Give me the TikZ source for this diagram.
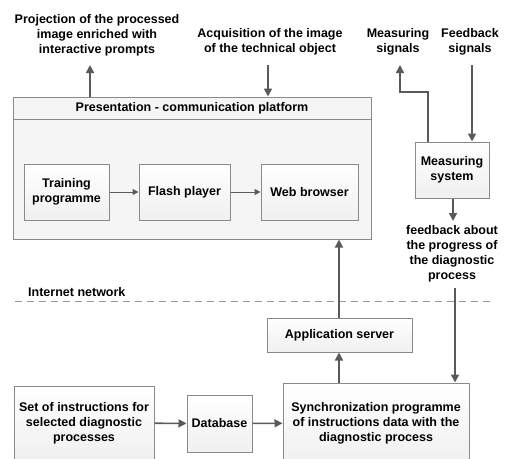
\documentclass[tikz,border=0pt]{standalone}
\usepackage{fontspec}
\setmainfont{Liberation Sans}
\usetikzlibrary{arrows.meta}
\definecolor{boxline}{HTML}{8A8A8A}
\definecolor{arrcol}{HTML}{5A5A5A}
\definecolor{dashcol}{HTML}{9A9A9A}
\tikzset{
  box/.style={draw=boxline, line width=1pt, top color=white, bottom color=gray!12, align=center, inner sep=2pt, font=\fontsize{12.5}{15}\selectfont\bfseries},
  lbl/.style={align=center, inner sep=0pt, font=\fontsize{12.5}{15}\selectfont\bfseries},
  arr/.style={draw=arrcol, line width=1.6pt, -{Triangle[length=8pt,width=8pt]}},
  thinarr/.style={draw=arrcol, line width=1pt, -{Triangle[length=6pt,width=6pt]}}
}
\begin{document}
\begin{tikzpicture}[x=1pt,y=-1pt]
\useasboundingbox (0,0) rectangle (505,458);
\clip (0,0) rectangle (505,458);
% platform
\node[draw=boxline, line width=1pt, fill=gray!8, minimum width=358pt, minimum height=142pt, inner sep=0pt] (plat) at (192,168) {};
\draw[boxline, line width=1pt] (plat.west |- 0,119) -- (plat.east |- 0,119);
\node[lbl] (ptitle) at (192,108) {Presentation - communication platform};
\node[box, minimum width=85pt, minimum height=56pt] (train) at (66.5,192) {Training\\programme};
\node[box, minimum width=91pt, minimum height=56pt] (flash) at (184.5,192) {Flash player};
\node[box, minimum width=97pt, minimum height=56pt] (web) at (309.5,192) {Web browser};
\draw[thinarr] (train) -- (flash);
\draw[thinarr] (flash) -- (web);
% top labels
\node[lbl] (proj) at (97,35) {Projection of the processed\\image enriched with\\interactive prompts};
\node[lbl] (acq) at (270,42) {Acquisition of the image\\of the technical object};
\node[lbl] (msig) at (398,42) {Measuring\\signals};
\node[lbl] (fsig) at (470,42) {Feedback\\signals};
% measuring system
\node[box, minimum width=74pt, minimum height=56pt] (meas) at (452,170) {Measuring\\system};
\node[lbl] (fb) at (452,253.5) {feedback about\\the progress of\\the diagnostic\\process};
% network
\draw[dashcol, line width=1pt, dash pattern=on 7pt off 5pt] (15,301) -- (490,301);
\node[lbl, anchor=west] (inet) at (28,292) {Internet network};
% bottom boxes
\node[box, minimum width=145pt, minimum height=34pt] (app) at (339.5,335) {Application server};
\node[box, minimum width=186pt, minimum height=80pt] (sync) at (376,423) {Synchronization programme\\of instructions data with the\\diagnostic process};
\node[box, minimum width=140pt, minimum height=74pt] (set) at (84,423) {Set of instructions for\\selected diagnostic\\processes};
\node[box, minimum width=65pt, minimum height=57pt, inner sep=1pt] (db) at (219.5,423.5) {Database};
% coordinates
\coordinate (pA) at (90,65);
\coordinate (aA) at (268,65);
\coordinate (mA) at (400,65);
\coordinate (mB) at (428,92);
\coordinate (fA) at (472,65);
\coordinate (fbA) at (453,221);
\coordinate (fbB) at (455,288);
\coordinate (vA) at (339,0);
% arrows
\draw[arr] (pA |- plat.north) -- (pA);
\draw[arr] (aA) -- (aA |- plat.north);
\draw[arr] (mB |- meas.north) -- (mB) -| (mA);
\draw[arr] (fA) -- (fA |- meas.north);
\draw[arr] (fbA |- meas.south) -- (fbA);
\draw[arr] (fbB) -- (fbB |- sync.north);
\draw[arr] (vA |- sync.north) -- (vA |- app.south);
\draw[arr] (vA |- app.north) -- (vA |- plat.south);
\draw[arr] (set) -- (db);
\draw[arr] (db) -- (sync);
\end{tikzpicture}
\end{document}
